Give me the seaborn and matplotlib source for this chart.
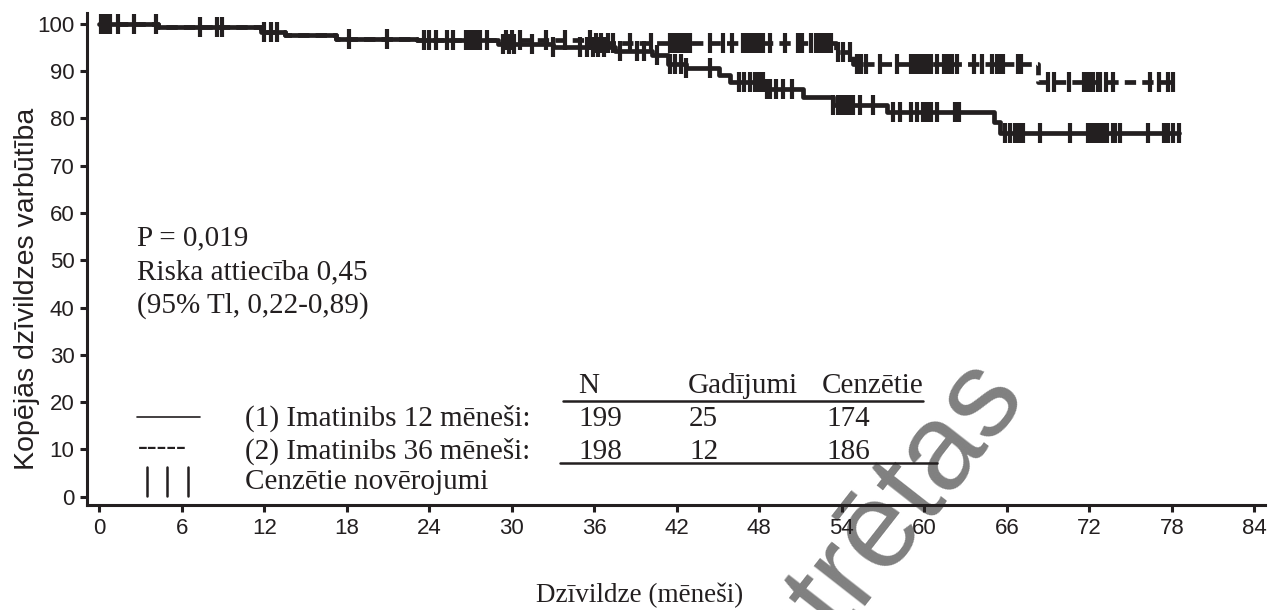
import numpy as np
import pandas as pd
import matplotlib
matplotlib.use("Agg")
import matplotlib.pyplot as plt
import seaborn as sns

sns.set_theme(style="ticks")
plt.rcParams['font.family'] = ['Liberation Sans', 'DejaVu Sans']

INK = '#231f20'
SERIF = ['Liberation Serif', 'DejaVu Serif']
W, H = 1269, 610

# Kaplan-Meier steps, months / survival %
arm1_step_t = [0, 4.3, 11.8, 13.5, 17.2, 23.1, 29.0, 33.0, 37.5, 40.2, 41.4, 42.7,
               45.1, 45.9, 48.6, 51.2, 53.4, 57.3, 65.1, 65.5]
arm1_step_s = [100, 99.4, 98.3, 97.6, 96.9, 96.5, 95.8, 95.2, 94.3, 93.4, 91.5, 90.6,
               89.2, 87.7, 86.3, 84.6, 82.9, 81.4, 79.2, 76.9]
arm2_step_t = [0, 4.3, 11.8, 13.5, 17.2, 23.1, 36.0, 53.6, 54.8, 68.3]
arm2_step_s = [100, 99.4, 98.3, 97.6, 96.9, 96.5, 95.9, 94.0, 91.6, 87.7]

# censored observations, months
arm1_cens = [0.1, 0.4, 0.7, 1.4, 4.1, 8.6, 12.0, 12.9, 18.2, 23.6, 24.5, 25.7, 26.7,
             27.2, 27.7, 29.4, 29.8, 30.2, 31.5, 33.0, 35.0, 35.5, 35.9, 36.3, 36.7,
             37.9, 39.1, 39.6, 40.6, 41.5, 41.9, 42.3, 42.7, 44.4, 46.5, 46.9, 47.3,
             47.7, 48.0, 48.3, 48.6, 48.8, 49.2, 49.7, 50.4, 53.4, 53.7, 54.0, 54.3,
             54.6, 54.8, 55.3, 56.3, 57.7, 58.2, 59.0, 59.5, 59.9, 60.2, 60.5, 60.9,
             62.2, 62.5, 65.9, 66.2, 66.6, 66.9, 67.2, 68.4, 70.6, 71.9, 72.1, 72.3,
             72.5, 72.7, 72.9, 73.1, 73.3, 73.7, 73.9, 74.2, 76.3, 77.4, 77.7, 78.1, 78.5]
arm2_cens = [0.2, 0.5, 0.8, 2.5, 7.3, 8.9, 12.5, 20.9, 24.0, 25.3, 26.9, 27.4, 28.2,
             29.6, 30.0, 30.6, 32.5, 33.9, 35.7, 36.1, 36.5, 37.0, 37.4, 38.6, 40.1,
             41.5, 41.8, 42.1, 42.4, 42.7, 43.0, 44.4, 45.4, 46.0, 46.8, 47.1, 47.4,
             47.7, 48.0, 48.3, 48.8, 49.9, 50.8, 51.1, 51.8, 52.1, 52.4, 52.7, 53.0,
             53.2, 53.7, 54.1, 54.6, 55.1, 55.4, 55.8, 56.8, 58.0, 59.0, 59.3, 59.6,
             59.9, 60.2, 60.5, 60.9, 61.4, 61.7, 62.0, 62.4, 63.6, 64.2, 64.9, 65.3,
             65.5, 65.7, 66.8, 67.0, 69.0, 69.4, 70.5, 71.6, 71.8, 72.0, 72.3, 72.6,
             72.8, 73.2, 73.7, 76.4, 77.1, 77.7, 78.1]

arm_names = ['(1) Imatinibs 12 mēneši:', '(2) Imatinibs 36 mēneši:']
n_total = [199, 198]
n_events = [25, 12]
n_cens = [174, 186]


def km_frames(name, step_t, step_s, cens):
    t = list(step_t) + [max(cens)]
    s = list(step_s) + [step_s[-1]]
    line = pd.DataFrame({'t': t, 's': s, 'arm': name})
    idx = np.searchsorted(step_t, cens, side='right') - 1
    marks = pd.DataFrame({'t': cens, 's': np.asarray(step_s)[idx], 'arm': name})
    return line, marks


l1, m1 = km_frames('arm1', arm1_step_t, arm1_step_s, arm1_cens)
l2, m2 = km_frames('arm2', arm2_step_t, arm2_step_s, arm2_cens)
lines = pd.concat([l1, l2], ignore_index=True)
marks = pd.concat([m1, m2], ignore_index=True)

fig = plt.figure(figsize=(W / 100, H / 100), dpi=100)
ax = fig.add_axes([87 / W, 1 - 505 / H, (1265 - 87) / W, (505 - 13) / H])
ax.patch.set_visible(False)

sns.lineplot(data=lines, x='t', y='s', style='arm', dashes={'arm1': '', 'arm2': (2.4, 1.3)},
             color=INK, linewidth=3.4, drawstyle='steps-post', estimator=None,
             sort=False, legend=False, ax=ax)
sns.scatterplot(data=marks, x='t', y='s', marker='|', s=220, linewidth=3,
                color=INK, legend=False, ax=ax)

ax.set_xlim(-0.887, 84.78)
ax.set_ylim(-1.75, 102.3)
ax.set_xticks(range(0, 85, 6))
ax.set_yticks(range(0, 101, 10))
for side in ['top', 'right']:
    ax.spines[side].set_visible(False)
for side in ['left', 'bottom']:
    ax.spines[side].set_linewidth(2.2)
    ax.spines[side].set_color(INK)
ax.tick_params(length=5, width=2.2, color=INK, labelcolor=INK, labelsize=16, pad=4)

ax.set_ylabel('Kopējās dzīvildzes varbūtība', fontsize=20.5, color=INK)
ax.yaxis.set_label_coords(-0.040, 0.439)
ax.set_xlabel('Dzīvildze (mēneši)', fontsize=19.5, color=INK, family=SERIF)
ax.xaxis.set_label_coords(0.469, -0.158)


def ftext(x, y, s, **kw):
    kw.setdefault('family', SERIF)
    kw.setdefault('fontsize', 21)
    kw.setdefault('color', INK)
    kw.setdefault('va', 'baseline')
    fig.text(x / W, 1 - y / H, s, **kw)


# watermark, mostly outside the canvas as in the source
fig.text(1028 / W, 1 - 398 / H, 'Zāles vairs nav reģistrētas', rotation=52,
         rotation_mode='anchor', ha='right', va='baseline', fontsize=88,
         color='#808080', zorder=-1)

ftext(137, 245, 'P = 0,019')
ftext(137, 279, 'Riska attiecība 0,45')
ftext(137, 313, '(95% Tl, 0,22-0,89)')

# header and rows of the small table
ftext(578, 393, 'N')
ftext(688, 393, 'Gadījumi')
ftext(822, 393, 'Cenzētie')
fig.add_artist(plt.Line2D([563 / W, 923 / W], [1 - 401 / H] * 2, color=INK, lw=1.8))
for i, yb in enumerate([426, 459]):
    ftext(245, yb, arm_names[i])
    ftext(578, yb, str(n_total[i]))
    ftext(689, yb, str(n_events[i]))
    ftext(826, yb, str(n_cens[i]))
fig.add_artist(plt.Line2D([560 / W, 937 / W], [1 - 463 / H] * 2, color=INK, lw=1.8))
ftext(245, 489, 'Cenzētie novērojumi')

# legend glyphs
fig.add_artist(plt.Line2D([137 / W, 200 / W], [1 - 417 / H] * 2, color=INK, lw=1.2))
ftext(138, 455, '-----')
for xb in [147, 167, 188]:
    fig.add_artist(plt.Line2D([xb / W] * 2, [1 - 467 / H, 1 - 496 / H], color=INK, lw=1.8))

fig.savefig('out.png', dpi=100)
